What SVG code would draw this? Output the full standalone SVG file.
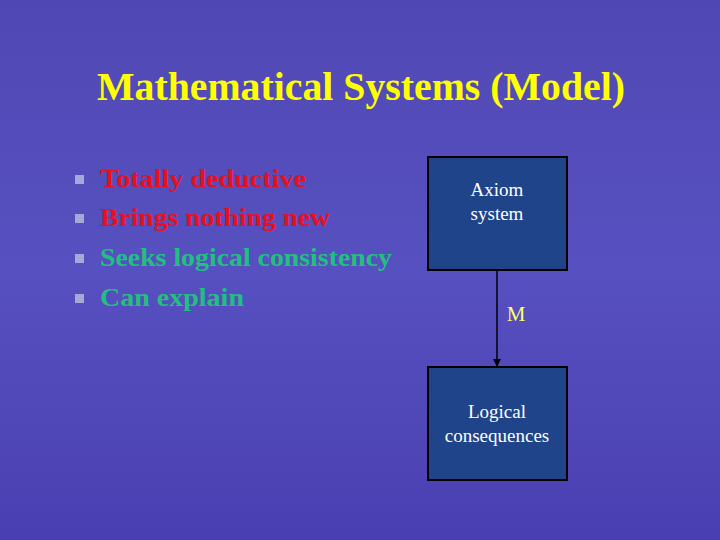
<svg xmlns="http://www.w3.org/2000/svg" width="720" height="540" viewBox="0 0 720 540">
<defs>
<linearGradient id="bg" x1="0" y1="0" x2="0" y2="1">
<stop offset="0" stop-color="#4f48b4"/><stop offset="0.5" stop-color="#5750c0"/><stop offset="1" stop-color="#4a3fb2"/>
</linearGradient>
<marker id="ah" markerWidth="8" markerHeight="8" refX="7" refY="4" orient="auto" markerUnits="userSpaceOnUse">
<path d="M0,0 L8,4 L0,8 z" fill="#000"/>
</marker>
<style>
.t{font-family:"Liberation Serif",serif;}
.b{font-family:"Liberation Serif",serif;font-weight:bold;font-size:26px;}
.red{fill:#e8101c;}
.grn{fill:#22c080;}
.bul{fill:#a8a8d8;}
.box{fill:#1f4489;stroke:#000;stroke-width:2;}
.lbl{font-family:"Liberation Serif",serif;font-size:19px;fill:#fff;text-anchor:middle;}
</style>
</defs>
<rect width="720" height="540" fill="url(#bg)"/>
<text class="t" x="97" y="100" textLength="528" lengthAdjust="spacingAndGlyphs" font-size="39" font-weight="bold" fill="#ffff00">Mathematical Systems (Model)</text>
<g id="bullets">
<rect class="bul" x="75" y="175" width="9" height="9"/>
<rect class="bul" x="75" y="214" width="9" height="9"/>
<rect class="bul" x="75" y="254" width="9" height="9"/>
<rect class="bul" x="75" y="294" width="9" height="9"/>
<text class="b red" x="100" y="187" textLength="206" lengthAdjust="spacingAndGlyphs">Totally deductive</text>
<text class="b red" x="100" y="226" textLength="230" lengthAdjust="spacingAndGlyphs">Brings nothing new</text>
<text class="b grn" x="100" y="266" textLength="292" lengthAdjust="spacingAndGlyphs">Seeks logical consistency</text>
<text class="b grn" x="100" y="306" textLength="144" lengthAdjust="spacingAndGlyphs">Can explain</text>
</g>
<g id="connectors">
<line x1="497" y1="270" x2="497" y2="366" stroke="#000" stroke-width="1.5" marker-end="url(#ah)"/>
<text class="t" x="516" y="321" font-size="21" fill="#ffff66" text-anchor="middle">M</text>
</g>
<g id="axiom">
<rect class="box" x="428" y="157" width="139" height="113"/>
<text class="lbl" x="497" y="196">Axiom</text>
<text class="lbl" x="497" y="220">system</text>
</g>
<g id="logical">
<rect class="box" x="428" y="367" width="139" height="113"/>
<text class="lbl" x="497" y="418">Logical</text>
<text class="lbl" x="497" y="442">consequences</text>
</g>
</svg>
